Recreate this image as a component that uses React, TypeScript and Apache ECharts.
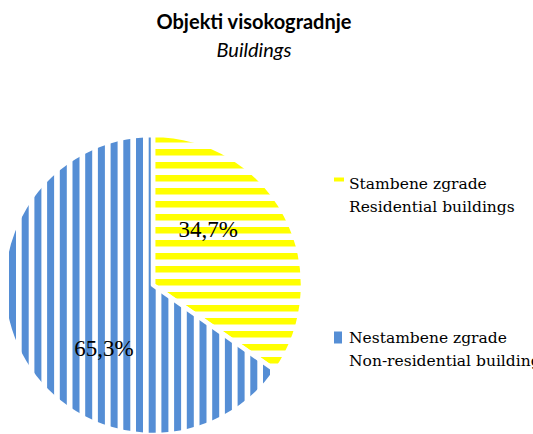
import React, { useEffect, useRef } from "react";
import * as echarts from "echarts";

const categories = [
  "Stambene zgrade\nResidential buildings",
  "Nestambene zgrade\nNon-residential buildings",
];
const shares = [34.7, 65.3];
const sliceColors = ["#FFFF00", "#558ED5"];
const titleText = "Objekti visokogradnje";
const subtitleText = "Buildings";

function horizontalStripes(color: string) {
  const c = document.createElement("canvas");
  c.width = 4;
  c.height = 13;
  const ctx = c.getContext("2d")!;
  ctx.fillStyle = "#ffffff";
  ctx.fillRect(0, 0, 4, 13);
  ctx.fillStyle = color;
  ctx.fillRect(0, 6, 4, 6.5);
  return { image: c, repeat: "repeat", imageWidth: 4, imageHeight: 13 };
}

function verticalStripes(color: string) {
  const c = document.createElement("canvas");
  c.width = 127;
  c.height = 4;
  const ctx = c.getContext("2d")!;
  ctx.fillStyle = "#ffffff";
  ctx.fillRect(0, 0, 127, 4);
  ctx.fillStyle = color;
  for (let k = -1; k <= 10; k++) ctx.fillRect(9 + k * 12.7, 0, 7, 4);
  return { image: c, repeat: "repeat", imageWidth: 127, imageHeight: 4 };
}

export default function App() {
  const ref = useRef<HTMLDivElement>(null);
  useEffect(() => {
    if (!ref.current) return;
    const chart = echarts.init(ref.current, undefined, { renderer: "svg" });
    const patterns = [horizontalStripes(sliceColors[0]), verticalStripes(sliceColors[1])];
    const labelOffsets = [[-14, -19], [20, 27]];
    const legendIcons = [
      "path://M0,0h10v4h-10z M0,35L0,35",
      "path://M0,0h8v12h-8z M10,35L10,35",
    ];
    chart.setOption({
      animation: false,
      backgroundColor: "#ffffff",
      title: {
        text: titleText,
        subtext: subtitleText,
        left: 254,
        textAlign: "center",
        top: 11,
        padding: 0,
        itemGap: 8,
        textStyle: { fontFamily: "Lato", fontWeight: "bold", fontSize: 20, color: "#000" },
        subtextStyle: { fontFamily: "Lato", fontStyle: "italic", fontSize: 20, color: "#000" },
      },
      legend: {
        orient: "vertical",
        left: 334,
        top: 172,
        padding: 0,
        itemWidth: 10,
        itemHeight: 35,
        itemGap: 108,
        selectedMode: false,
        data: categories.map((name, i) => ({
          name,
          icon: legendIcons[i],
          itemStyle: { color: sliceColors[i], borderWidth: 0 },
        })),
        textStyle: {
          fontFamily: "DejaVu Serif",
          fontSize: 15.5,
          lineHeight: 23,
          color: "#000",
        },
      },
      series: [
        {
          type: "pie",
          center: [153, 285],
          radius: 150,
          startAngle: 90,
          clockwise: true,
          silent: true,
          emphasis: { disabled: true },
          itemStyle: { borderColor: "#ffffff", borderWidth: 4.5 },
          label: {
            show: true,
            position: "inside",
            fontFamily: "Liberation Serif",
            fontSize: 23,
            color: "#000",
            textBorderWidth: 0,
            formatter: (p: any) => `${p.value.toFixed(1).replace(".", ",")}%`,
          },
          labelLine: { show: false },
          data: categories.map((name, i) => ({
            name,
            value: shares[i],
            itemStyle: { color: patterns[i] },
            label: { offset: labelOffsets[i] },
          })),
        },
      ],
    });
    return () => chart.dispose();
  }, []);
  return (
    <div
      ref={ref}
      style={{ position: "fixed", left: 0, top: 0, width: 533, height: 434 }}
    />
  );
}
